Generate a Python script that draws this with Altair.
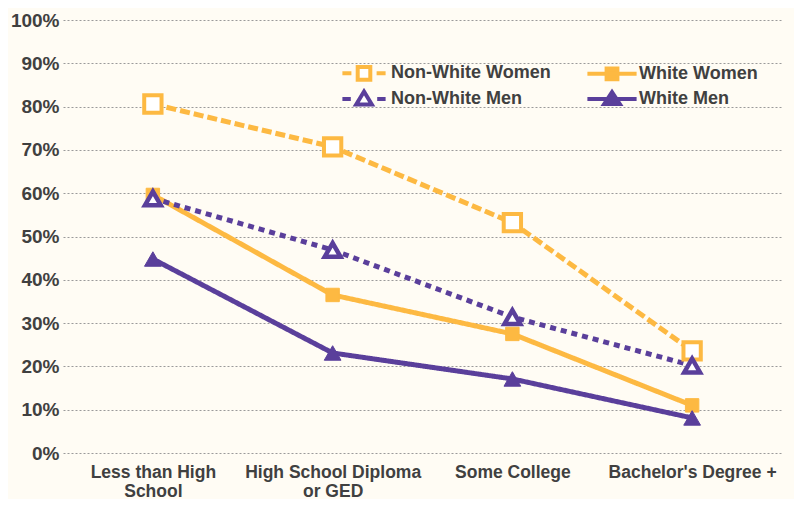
import json
import altair as alt
import pandas as pd

categories = ["Less than High School", "High School Diploma or GED", "Some College", "Bachelor's Degree +"]
category_lines = [["Less than High", "School"], ["High School Diploma", "or GED"], ["Some College"], ["Bachelor's Degree +"]]
series = ["Non-White Women", "White Women", "Non-White Men", "White Men"]
non_white_women = [80.6, 70.7, 53.2, 23.6]
white_women = [59.6, 36.5, 27.5, 11.0]
non_white_men = [58.8, 46.9, 31.4, 20.2]
white_men = [44.8, 23.1, 17.1, 8.1]

ORANGE = "#FDB942"
PURPLE = "#5A3F9B"
WHITE = "#FFFFFF"
BG = "#FFFCF4"
TEXT = "#404040"

values = [non_white_women, white_women, non_white_men, white_men]
rows = []
for s, vals in zip(series, values):
    for c, v in zip(categories, vals):
        rows.append({"category": c, "series": s, "value": v / 100})
df = pd.DataFrame(rows)

label_expr = " : ".join(
    f"datum.value == {json.dumps(c)} ? {json.dumps(lines)}" for c, lines in zip(categories, category_lines)
) + " : datum.value"

x = alt.X("category:N", sort=categories, scale=alt.Scale(type="point", padding=0.5),
          axis=alt.Axis(title=None, labelExpr=label_expr, labelAngle=0, ticks=False, domain=False,
                        labelPadding=10, labelFontSize=17.5, labelLineHeight=19, labelLimit=0, grid=False))
y = alt.Y("value:Q", scale=alt.Scale(domain=[0, 1]),
          axis=alt.Axis(title=None, format=".0%", values=[i / 10 for i in range(11)], ticks=False,
                        domain=False, labelPadding=4, labelFontSize=19,
                        grid=True, gridDash=[2, 2], gridColor="#9a9a9a", gridWidth=1))

lines = alt.Chart(df).mark_line(strokeWidth=5, strokeCap="butt").encode(
    x=x, y=y,
    color=alt.Color("series:N", scale=alt.Scale(domain=series, range=[ORANGE, ORANGE, PURPLE, PURPLE]), legend=None),
    strokeDash=alt.StrokeDash("series:N", scale=alt.Scale(domain=series, range=[[10, 4], [1, 0], [6, 5], [1, 0]]), legend=None),
    detail="series:N",
)

# marker style per series: shape, fill, stroke, size, strokeWidth
marker_styles = {
    "Non-White Women": ("square", WHITE, ORANGE, 300, 4),
    "White Women": ("square", ORANGE, ORANGE, 180, 1),
    "Non-White Men": ("triangle-up", WHITE, PURPLE, 250, 4.5),
    "White Men": ("triangle-up", PURPLE, PURPLE, 280, 1),
}
point_layers = []
for s in series:
    shp, fil, stk, sz, sw = marker_styles[s]
    point_layers.append(
        alt.Chart(df).transform_filter(alt.datum.series == s).mark_point(
            filled=True, opacity=1, shape=shp, fill=fil, stroke=stk, size=sz, strokeWidth=sw
        ).encode(x=x, y=y)
    )

legend_order = ["Non-White Women", "Non-White Men", "White Women", "White Men"]
legend_paths = {
    "Non-White Women": "M-3.6,0H-2.1M-1.05,-1.05H1.05V1.05H-1.05ZM2.1,0H3.6",
    "White Women": "M-4.1,0H4.1M-0.9,-0.9H0.9V0.9H-0.9Z",
    "Non-White Men": "M-3.6,0H-2.2M0,-1.25L1.3,0.9H-1.3ZM2.2,0H3.6",
    "White Men": "M-4.1,0H4.1M0,-1.15L1.3,0.85H-1.3Z",
}
legend_fill = {"Non-White Women": WHITE, "White Women": ORANGE, "Non-White Men": WHITE, "White Men": PURPLE}
legend_stroke = {"Non-White Women": ORANGE, "White Women": ORANGE, "Non-White Men": PURPLE, "White Men": PURPLE}

legend_layer = alt.Chart(df).transform_filter(alt.datum.value < 0).mark_point(filled=True, opacity=1, strokeWidth=4).encode(
    x=x, y=y,
    shape=alt.Shape("series:N", scale=alt.Scale(domain=legend_order, range=[legend_paths[s] for s in legend_order]),
                    legend=alt.Legend(title=None, orient="none", legendX=292, legendY=44, columns=2,
                                      columnPadding=28, rowPadding=-5, symbolSize=144, symbolStrokeWidth=4,
                                      labelOffset=18, labelFontSize=18, labelColor=TEXT, labelFont="Liberation Sans",
                                      labelFontWeight="bold", padding=0, symbolOpacity=1)),
    fill=alt.Fill("series:N", scale=alt.Scale(domain=legend_order, range=[legend_fill[s] for s in legend_order])),
    stroke=alt.Stroke("series:N", scale=alt.Scale(domain=legend_order, range=[legend_stroke[s] for s in legend_order])),
)

chart = alt.layer(lines, *point_layers, legend_layer).resolve_scale(
    shape="independent", fill="independent", stroke="independent"
).properties(
    width=719, height=433, background=BG,
    autosize=alt.AutoSizeParams(type="none"),
    padding={"left": 55, "top": 12, "right": 12, "bottom": 46},
).configure_axis(
    labelFont="Liberation Sans", labelFontWeight="bold", labelColor=TEXT,
).configure_view(stroke=None)

chart.save("out.html", embed_options={"renderer": "svg", "actions": False})
